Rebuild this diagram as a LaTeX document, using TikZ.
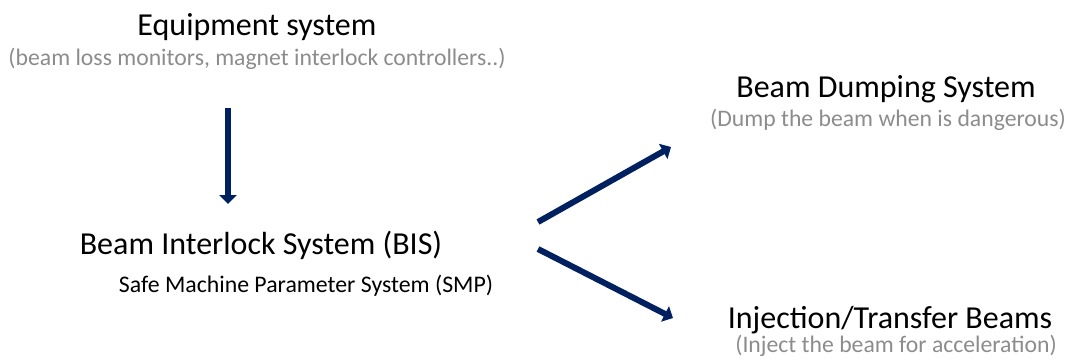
\documentclass[tikz,border=0pt]{standalone}
\usepackage{fontspec}
\setmainfont{Carlito}
\usetikzlibrary{arrows.meta,positioning}
\definecolor{navy}{HTML}{002060}
\definecolor{subgray}{HTML}{8C8C8C}

\begin{document}
\begin{tikzpicture}[
    x=1pt, y=-1pt,
    ttl/.style={inner sep=0pt, font=\fontsize{32}{36}\selectfont, text=black},
    sub/.style={inner sep=0pt, font=\fontsize{23.7}{28}\selectfont, text=subgray},
    smp/.style={inner sep=0pt, font=\fontsize{23.8}{28}\selectfont, text=black},
    arr/.style={-{Triangle[length=9pt, width=17pt]}, line width=6pt, draw=navy}
]
\useasboundingbox (0,0) rectangle (1070,360);

\node[ttl] (equip) at (257,27) {Equipment system};
\node[sub] (equipsub) at (257,59) {(beam loss monitors, magnet interlock controllers..)};

\node[ttl] (bis) at (261,245) {Beam Interlock System (BIS)};
\node[smp] (smp) at (306,286) {Safe Machine Parameter System (SMP)};

\node[ttl] (dump) at (886,89) {Beam Dumping System};
\node[sub] (dumpsub) at (888,120) {(Dump the beam when is dangerous)};

\node[ttl] (inj) at (890,320) {Injection/Transfer Beams};
\node[sub] (injsub) at (896,346) {(Inject the beam for acceleration)};

% arrow ends
\coordinate (eqout) at (228,108);
\coordinate (bisin) at (228,204);
\coordinate (bisup) at (538,222);
\coordinate (dumpin) at (671,147);
\coordinate (bisdn) at (538,249);
\coordinate (injin) at (673,318);

\draw[arr] (eqout) -- (bisin);
\draw[arr] (bisup) -- (dumpin);
\draw[arr] (bisdn) -- (injin);
\end{tikzpicture}
\end{document}
